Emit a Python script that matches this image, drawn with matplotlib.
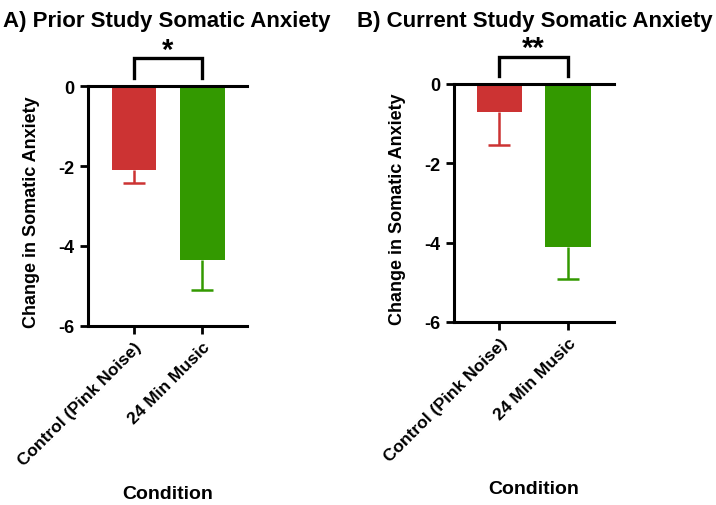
import numpy as np
import matplotlib.pyplot as plt

plt.rcParams['font.family'] = ['Liberation Sans', 'DejaVu Sans']
plt.rcParams['font.weight'] = 'bold'

# data
conditions = ['Control (Pink Noise)', '24 Min Music']
prior_means = [-2.09, -4.34]
prior_err = [0.34, 0.75]
current_means = [-0.71, -4.11]
current_err = [0.84, 0.80]
titles = ['A) Prior Study Somatic Anxiety', 'B) Current Study Somatic Anxiety']
stars = ['*', '**']
bar_colors = ['#CC3333', '#339900']

W, H = 716, 506
fig = plt.figure(figsize=(W / 100, H / 100), dpi=100)

# axes boxes in pixels: left, right, top, bottom
boxes = [(88, 247, 87, 327), (454, 614, 85, 323)]
xlims = [(-0.676, 1.66), (-0.66, 1.67)]
title_x = [3, 357]
cap_half = 0.16

for i, (means, errs) in enumerate([(prior_means, prior_err), (current_means, current_err)]):
    l, r, t, b = boxes[i]
    ax = fig.add_axes([l / W, (H - b) / H, (r - l) / W, (b - t) / H])
    x = np.arange(len(conditions))
    for j in range(len(conditions)):
        ax.bar(x[j], means[j], width=0.66, color=bar_colors[j], zorder=2)
        # lower error bar only
        low = means[j] - errs[j]
        ax.vlines(x[j], low, means[j], color=bar_colors[j], lw=1.8, zorder=1)
        ax.hlines(low, x[j] - cap_half, x[j] + cap_half, color=bar_colors[j], lw=1.8, zorder=1)
    ax.set_ylim(-6, 0)
    ax.set_xlim(*xlims[i])
    ax.set_yticks([0, -2, -4, -6])
    ax.set_yticklabels(['0', '-2', '-4', '-6'])
    ax.set_xticks(x)
    ax.set_xticklabels(conditions, rotation=45, ha='right', rotation_mode='anchor')
    ax.tick_params(axis='y', labelsize=13, width=2, length=6)
    ax.tick_params(axis='x', labelsize=12.5, width=2, length=6)
    for lab in ax.get_xticklabels() + ax.get_yticklabels():
        lab.set_fontweight('bold')
    ax.spines['right'].set_visible(False)
    for s in ['left', 'top', 'bottom']:
        ax.spines[s].set_linewidth(2.2)
    ax.set_ylabel('Change in Somatic Anxiety', fontsize=13, fontweight='bold')
    ax.yaxis.set_label_coords(-0.30, 0.48)
    ax.set_xlabel('Condition', fontsize=14, fontweight='bold', va='center')
    ax.xaxis.set_label_coords(0.5, -0.70)

    # significance bracket above the bars
    ax.plot([0, 0, 1, 1], [0.2, 0.69, 0.69, 0.2], color='black', lw=2.4,
            clip_on=False, solid_joinstyle='miter')
    ax.text(0.5, 0.71, stars[i], ha='center', va='baseline', fontsize=21,
            fontweight='bold', clip_on=False)

    fig.text(title_x[i] / W, 1 - 22 / H, titles[i], ha='left', va='center',
             fontsize=16, fontweight='bold')

fig.savefig('out.png', dpi=100)
